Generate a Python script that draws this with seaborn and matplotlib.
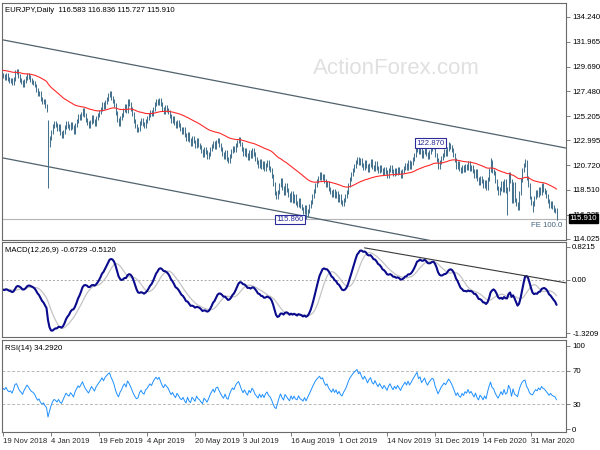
import numpy as np
import pandas as pd
import matplotlib
matplotlib.use("Agg")
import matplotlib.pyplot as plt
import seaborn as sns
from matplotlib.transforms import blended_transform_factory as btf

# ---------------- data (daily closes) ----------------
close = [
    128.9, 128.7, 129.0, 128.6, 128.4, 128.5, 128.2, 128.6, 129.2, 129.3, 128.9, 128.5, 128.3, 128.0, 128.4, 128.7, 129.0, 128.8, 128.5, 128.3, 128.2,
    128.0, 127.6, 127.2, 127.3, 126.8, 126.5, 126.6, 126.1, 125.8,
    122.6,
    123.2, 123.8, 124.3, 124.6, 124.4, 124.0, 124.3, 123.7, 123.4, 123.8, 124.2, 124.6, 124.3, 124.1, 124.5, 124.2, 123.8, 124.4, 124.8, 125.2, 125.0, 125.4, 125.8,
    125.3, 124.9, 124.6, 124.3, 124.7, 125.1, 124.8, 124.5, 125.0, 125.3,
    125.6, 125.9, 126.3, 126.0, 126.5, 126.8, 127.1, 127.3, 126.9, 126.6, 126.2, 125.5, 124.9, 124.5,
    125.0, 125.3, 125.8, 126.1, 125.7, 126.6, 126.3, 125.9, 125.4, 124.8, 124.3, 123.9, 124.0,
    124.6, 124.9, 124.5, 124.3, 124.8, 125.0, 125.3, 125.6, 125.4, 125.9, 126.3, 126.6, 126.4, 126.7, 126.3, 125.9, 125.6, 126.0, 125.8,
    125.6, 125.2, 124.8, 125.0, 124.6, 124.3, 124.7, 124.4, 124.0,
    123.8, 124.0, 123.5, 123.1, 123.6, 123.0, 122.7, 123.2, 122.9, 122.5, 123.0, 122.6, 122.4,
    122.0, 121.7, 122.2, 121.9, 121.5, 121.8, 122.2,
    122.5, 122.8, 122.4, 122.9, 123.0, 122.6, 122.2,
    121.8, 121.5, 121.9, 121.3, 121.1, 121.6,
    122.0, 122.3, 122.1, 122.6, 122.9, 123.1, 122.7,
    122.2, 121.8, 122.1, 121.7, 121.4, 121.9, 121.6, 122.1, 121.8,
    121.3, 121.0, 120.7, 121.1, 120.6, 120.9, 120.4, 120.8, 121.0, 120.5, 120.3,
    119.8, 119.0, 118.2, 117.8, 118.3,
    118.9, 119.4, 118.7, 118.2, 118.9, 118.5,
    118.0, 117.6, 118.2, 117.5, 117.9, 117.3, 117.1, 117.6, 117.0,
    116.8, 116.5, 116.9, 116.2, 116.6, 117.0, 117.4,
    117.9, 118.4, 118.9, 119.3, 119.6, 119.9, 119.6, 119.8,
    119.3, 118.9, 119.1, 118.6, 118.3,
    118.0, 118.4, 117.9, 118.2, 117.6, 117.9, 117.4, 117.2, 117.6, 117.9, 118.3,
    118.9, 119.5, 119.9, 120.3, 120.7, 121.0, 121.3, 120.9, 121.2,
    120.8, 120.5, 121.0, 120.7, 120.3, 120.8, 121.1, 120.6, 120.4, 120.9, 120.5, 120.2, 120.6,
    120.3, 120.0, 120.4, 120.1, 119.8, 120.3, 120.6, 120.2, 119.9, 120.3, 120.0, 120.4, 120.1, 119.8, 120.2, 120.5,
    120.8, 120.5, 121.0, 120.6, 120.9, 121.3, 121.7,
    122.1, 122.5, 121.9, 122.2, 121.6, 121.9, 122.3, 121.8, 121.5,
    121.9, 122.2, 122.5, 122.4, 121.7, 121.2, 120.6, 121.0,
    121.4, 121.7, 122.0, 121.8, 122.2, 122.6, 122.4, 122.1, 121.7,
    121.2, 120.6, 120.9, 120.4, 120.2, 120.6,
    120.3, 120.7, 120.5, 120.9, 120.4, 120.6, 120.2,
    119.8, 120.2, 119.5, 119.1, 119.6, 119.3, 118.8, 119.2, 118.7,
    119.5, 120.3, 121.0, 120.2,
    120.0, 119.3, 118.7, 118.2, 118.6, 119.1, 118.5, 119.3, 118.4,
    118.6, 119.9, 119.3, 117.5, 119.0, 117.6, 117.2, 116.8, 118.2, 119.4,
    120.3, 120.8, 121.0,
    119.6, 118.9, 117.8, 117.3, 117.2,
    117.8, 118.3, 118.0, 118.6, 118.2, 118.9, 118.5, 118.3, 117.9,
    117.5, 117.0, 117.3, 116.9, 116.7, 116.583, 115.910,
]
first_open = 129.0
low_spikes = {30: 118.67, 202: 115.86, 336: 116.2, 353: 116.5, 369: 115.727}
high_spikes = {30: 124.9, 297: 122.87, 325: 121.4, 348: 121.3, 369: 116.836}

# warm-up seeds for indicators (state before the first visible bar)
ema55_seed = 129.4
ema12_seed, ema26_seed = 129.05, 129.30
macd_prev_seed = -0.22
rsi_gain_seed, rsi_loss_seed = 0.22, 0.22

tick_pos = [0, 32, 64, 96, 128, 160, 192, 224, 256, 288, 320, 352]
tick_lab = ["19 Nov 2018", "4 Jan 2019", "19 Feb 2019", "4 Apr 2019", "20 May 2019", "3 Jul 2019",
            "16 Aug 2019", "1 Oct 2019", "14 Nov 2019", "31 Dec 2019", "14 Feb 2020", "31 Mar 2020"]
price_ticks = [134.240, 131.965, 129.690, 127.480, 125.205, 122.995, 120.720, 118.510, 116.235, 114.025]
price_lab = ["134.240", "131.965", "129.690", "127.480", "125.205", "122.995", "120.720", "118.510", "116.235", "114.025"]

chan_x = [0, 375]
chan_upper = [132.15, 122.31]
chan_lower = [121.40, 111.50]
macd_tl_x = [241, 375]
macd_tl_y = [0.80, -0.07]
fe_level = 115.88

# ---------------- derived series ----------------
n = len(close)
idx = np.arange(n)
c = np.array(close)
opens = np.r_[first_open, c[:-1]]
wick = 0.18
hi = np.maximum(opens, c) + wick
lo = np.minimum(opens, c) - wick
for k, v in low_spikes.items():
    lo[k] = v
for k, v in high_spikes.items():
    hi[k] = v

def ema(series, period, seed):
    a = 2.0 / (period + 1)
    out, prev = [], seed
    for v in series:
        prev = prev + a * (v - prev)
        out.append(prev)
    return np.array(out)

ma55 = ema(c, 55, ema55_seed)
macd = ema(c, 12, ema12_seed) - ema(c, 26, ema26_seed)
sig = pd.Series(np.r_[[macd_prev_seed] * 8, macd]).rolling(9).mean().to_numpy()[8:]

g, l = rsi_gain_seed, rsi_loss_seed
rsi = []
prev = first_open
for v in c:
    d = v - prev
    g = (g * 13 + max(d, 0)) / 14
    l = (l * 13 + max(-d, 0)) / 14
    rsi.append(100 - 100 / (1 + g / l))
    prev = v
rsi = np.array(rsi)

# ---------------- plotting ----------------
sns.set_theme(style="white")
plt.rcParams["font.family"] = ["Liberation Sans", "DejaVu Sans"]
FS = 5.6
fig = plt.figure(figsize=(6, 4.5), dpi=100)
W = 564 / 600
ax1 = fig.add_axes([2 / 600, 1 - 240 / 450, W, 237 / 450])
ax2 = fig.add_axes([2 / 600, 1 - 337 / 450, W, 95 / 450])
ax3 = fig.add_axes([2 / 600, 1 - 432 / 450, W, 92 / 450])

for ax in (ax1, ax2, ax3):
    ax.set_facecolor("white")
    for s in ax.spines.values():
        s.set_color("#6a6a6a")
        s.set_linewidth(0.8)
    ax.set_xlim(-0.67, 375.3)
    ax.yaxis.tick_right()
    ax.tick_params(axis="y", direction="out", length=3, width=0.6, color="#6a6a6a",
                   labelsize=FS, pad=1.5, labelcolor="black", right=True, left=False)
    ax.tick_params(axis="x", bottom=False, labelbottom=False)
    ax.set_xlabel("")
    ax.set_ylabel("")
    ax.grid(False)

# main panel
ax1.set_ylim(113.93, 135.51)
ax1.text(262, 129.55, "ActionForex.com", fontsize=16, color="#e0e0e0", ha="center", va="center", zorder=0)
ax1.axhline(fe_level, color="#b4b4b4", lw=0.8, zorder=1)
sns.lineplot(x=chan_x, y=chan_upper, ax=ax1, color="#50626c", lw=0.9)
sns.lineplot(x=chan_x, y=chan_lower, ax=ax1, color="#50626c", lw=0.9)
ax1.vlines(idx, lo, hi, color="#44728f", lw=0.75, zorder=3)
sns.lineplot(x=idx, y=ma55, ax=ax1, color="#ff2a2a", lw=0.8, zorder=4)
ax1.set_yticks(price_ticks)
ax1.set_yticklabels(price_lab)
ax1.text(200.5, 115.80, "115.860", ha="right", va="center", fontsize=FS, color="#2a2a9a",
         bbox=dict(facecolor="white", edgecolor="#2a2a9a", pad=0.8, lw=0.8), zorder=6)
ax1.text(294.5, 122.76, "122.870", ha="right", va="center", fontsize=FS, color="#2a2a9a",
         bbox=dict(facecolor="white", edgecolor="#2a2a9a", pad=0.8, lw=0.8), zorder=6)
tr1 = btf(ax1.transAxes, ax1.transData)
ax1.text(0.994, fe_level - 0.35, "FE 100.0", transform=tr1, ha="right", va="top", fontsize=FS, color="#45657f")
ax1.text(1.006, 115.91, "115.910", transform=tr1, ha="left", va="center", fontsize=FS, color="white",
         bbox=dict(facecolor="black", edgecolor="black", pad=0.6), zorder=10, clip_on=False)
ax1.text(0.006, 0.985, "EURJPY,Daily  116.583 116.836 115.727 115.910", transform=ax1.transAxes,
         ha="left", va="top", fontsize=FS, color="black")

# MACD panel
ax2.set_ylim(-1.42, 0.946)
ax2.axhline(0, color="#a8a8a8", lw=0.7, ls=(0, (2, 2)))
sns.lineplot(x=idx, y=sig, ax=ax2, color="#c4c4c4", lw=0.9)
sns.lineplot(x=idx, y=macd, ax=ax2, color="#0a0a8c", lw=1.5)
sns.lineplot(x=macd_tl_x, y=macd_tl_y, ax=ax2, color="#3a3a3a", lw=0.8)
ax2.set_yticks([0.8215, 0.0, -1.3209])
ax2.set_yticklabels(["0.8215", "0.00", "-1.3209"])
ax2.text(0.006, 0.95, "MACD(12,26,9) -0.6729 -0.5120", transform=ax2.transAxes,
         ha="left", va="top", fontsize=FS, color="black")

# RSI panel
ax3.set_ylim(-3.6, 107.2)
ax3.axhline(70, color="#b8b8b8", lw=0.7, ls=(0, (3, 2)))
ax3.axhline(30, color="#b8b8b8", lw=0.7, ls=(0, (3, 2)))
sns.lineplot(x=idx, y=rsi, ax=ax3, color="#1e90ff", lw=0.7)
ax3.set_yticks([100, 70, 30, 0])
ax3.set_yticklabels(["100", "70", "30", "0"])
ax3.text(0.006, 0.95, "RSI(14) 34.2920", transform=ax3.transAxes,
         ha="left", va="top", fontsize=FS, color="black")
ax3.tick_params(axis="x", bottom=True, labelbottom=True, direction="out", length=3, width=0.6,
                color="#6a6a6a", labelsize=FS, pad=1.5)
ax3.set_xticks(tick_pos)
ax3.set_xticklabels(tick_lab, ha="left")
for ax in (ax1, ax2, ax3):
    ax.set_xlim(-0.67, 375.3)

fig.savefig("out.png", dpi=100, facecolor="white")
